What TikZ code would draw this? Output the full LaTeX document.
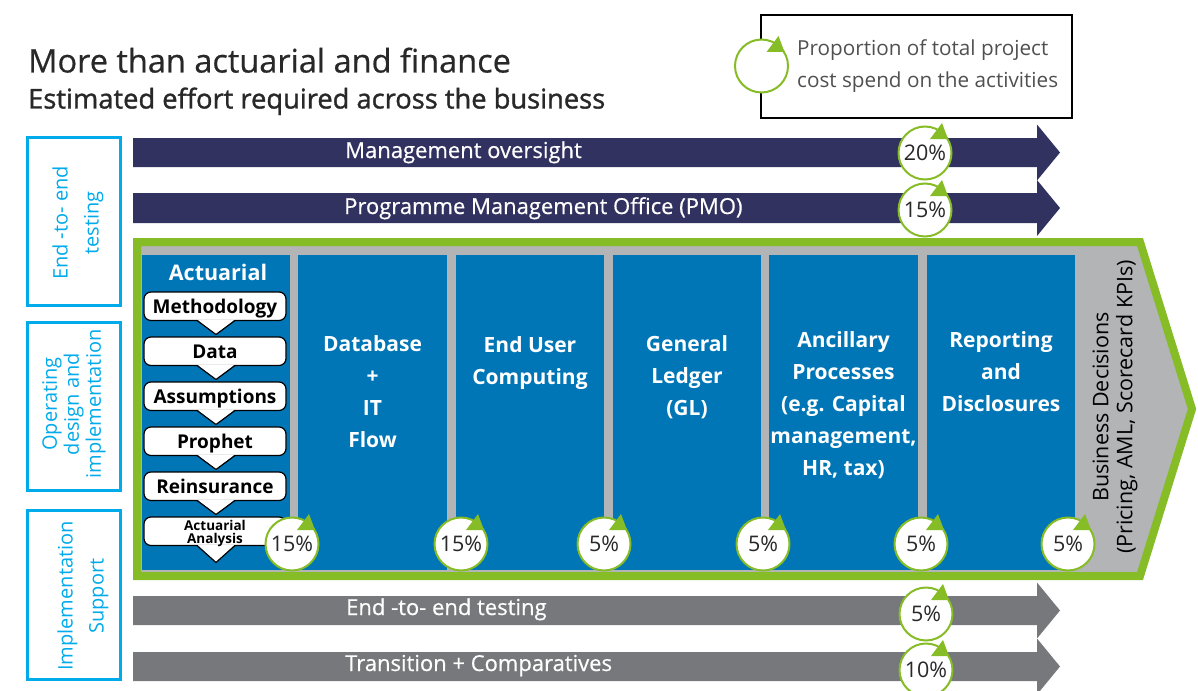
\documentclass[tikz,border=0pt]{standalone}
\usepackage{fontspec}
\setmainfont{Open Sans}
\newfontfamily\semib[FakeBold=1.2]{Open Sans}
\newfontfamily\medw[FakeBold=0.5]{Open Sans}
\definecolor{navy}{RGB}{50,50,96}
\definecolor{agray}{RGB}{119,120,123}
\definecolor{cblue}{RGB}{0,118,182}
\definecolor{fgray}{RGB}{178,180,181}
\definecolor{dgreen}{RGB}{134,188,37}
\definecolor{lcyan}{RGB}{0,171,235}
\definecolor{txt}{RGB}{40,40,40}
\definecolor{legtxt}{RGB}{80,80,80}
\tikzset{
  arrowtext/.style={anchor=base west, text=white, inner sep=0, font=\medw\fontsize{22}{25}\selectfont},
  coltext/.style={anchor=north, text=white, align=center, inner sep=0, font=\bfseries\fontsize{21}{32}\selectfont},
  sidebox/.style={draw=lcyan, line width=3, fill=white, rotate=90, inner sep=0},
  sidetext/.style={text=lcyan, rotate=90, align=center, inner sep=0},
  callout/.style={draw=black, line width=1.2, fill=white, rounded corners=7},
  calltext/.style={anchor=base, inner sep=0, font=\bfseries\fontsize{19}{22}\selectfont},
  pctc/.style={circle, draw=dgreen, line width=2, fill=white, minimum size=53, inner sep=0, text=txt, font=\fontsize{21.5}{24}\selectfont},
}
\newcommand\pctmark[4]{%
  \node[pctc] (#1) at (#2,#3) {#4};
  \fill[dgreen] ([shift={(5,-14)}]#1.center) -- ([shift={(17,-30)}]#1.center) -- ([shift={(23,-14)}]#1.center) -- cycle;}
\newcommand\hbarrow[4]{% name, top, bottom, color
  \fill[#4] (133,#2) -- (1037,#2) -- (1037,{(#2+#3)/2-28}) -- (1060,{(#2+#3)/2}) -- (1037,{(#2+#3)/2+28}) -- (1037,#3) -- (133,#3) -- cycle;}
\newcommand\callbox[2]{% top, pointer depth
  \draw[callout] (144,#1) rectangle (286,#1+28.5);
  \fill[white] (197,#1+27.5) -- (216,#1+28.5+#2) -- (235,#1+27.5) -- cycle;
  \draw[black, line width=1.2, line join=round] (197,#1+28.5) -- (216,#1+28.5+#2) -- (235,#1+28.5);}
\begin{document}
\begin{tikzpicture}[x=1pt,y=-1pt]
\useasboundingbox (0,0) rectangle (1198,690);
% titles
\node[anchor=base west, inner sep=0, text=txt, font=\medw\fontsize{32.5}{36}\selectfont] (title) at (28,72.5) {More than actuarial and finance};
\node[anchor=base west, inner sep=0, text=txt, font=\semib\fontsize{27.3}{30}\selectfont] (subtitle) at (28,108.5) {Estimated effort required across the business};
% legend
\draw[black, line width=1.3] (761,15) rectangle (1072,118);
\pctmark{leg}{761.5}{66}{}
\node[anchor=north west, align=left, inner sep=0, text=legtxt, font=\fontsize{20.7}{32}\selectfont] (legtext) at (797,39) {Proportion of total project\\cost spend on the activities};
% side boxes
\node[sidebox, minimum width=168, minimum height=93] (s1) at (74,221.5) {};
\node[sidebox, minimum width=168, minimum height=93] (s2) at (74,406.5) {};
\node[sidebox, minimum width=169, minimum height=93] (s3) at (74,595) {};
\node[sidetext, font=\fontsize{20}{31}\selectfont] (s1t) at (78,223) {End -to- end\\testing};
\node[sidetext, font=\fontsize{20}{22}\selectfont] (s2t) at (74,404) {Operating\\design and\\implementation};
\node[sidetext, font=\fontsize{20}{31}\selectfont] (s3t) at (83,596) {Implementation\\Support};
% top arrows
\hbarrow{a1}{138}{167}{navy}
\hbarrow{a2}{193}{223}{navy}
\node[arrowtext] (a1t) at (345,158) {Management oversight};
\node[arrowtext] (a2t) at (344,214) {Programme Management Office (PMO)};
% bottom arrows
\hbarrow{a3}{596}{625}{agray}
\hbarrow{a4}{652}{681}{agray}
\node[arrowtext] (a3t) at (346,615) {End -to- end testing};
\node[arrowtext] (a4t) at (345,671) {Transition + Comparatives};
% main chevron frame
\draw[fill=fgray, draw=dgreen, line width=8, line join=miter] (137,242) -- (1140,242) -- (1192,409) -- (1140,576) -- (137,576) -- cycle;
% blue columns
\fill[cblue] (142,255) rectangle (290,570);
\fill[cblue] (298,255) rectangle (447,570);
\fill[cblue] (456,255) rectangle (604,570);
\fill[cblue] (613,255) rectangle (761,570);
\fill[cblue] (769,255) rectangle (918,570);
\fill[cblue] (927,255) rectangle (1075,570);
% column texts
\node[coltext] (db) at (372.5,335) {Database\\+\\IT\\Flow};
\node[coltext] (euc) at (530,336) {End User\\Computing};
\node[coltext] (gl) at (687,335) {General\\Ledger\\(GL)};
\node[coltext] (anc) at (843.5,331) {Ancillary\\Processes\\(e.g. Capital\\management,\\HR, tax)};
\node[coltext] (rep) at (1001,331) {Reporting\\and\\Disclosures};
\node[anchor=base, text=white, inner sep=0, font=\bfseries\fontsize{21.5}{24}\selectfont] (act) at (218,280) {Actuarial};
% business decisions
\node[rotate=90, align=center, inner sep=0, text=black, font=\fontsize{21.5}{24}\selectfont] (bd) at (1115,407) {Business Decisions\\(Pricing, AML, Scorecard KPIs)};
% actuarial callouts
\callbox{292}{14}
\callbox{337}{14}
\callbox{382}{14}
\callbox{427}{14}
\callbox{472}{14}
\callbox{517}{17}
\node[calltext] (c1) at (215,313.5) {Methodology};
\node[calltext] (c2) at (215,358.5) {Data};
\node[calltext] (c3) at (215,403.5) {Assumptions};
\node[calltext] (c4) at (215,448.5) {Prophet};
\node[calltext] (c5) at (215,493.5) {Reinsurance};
\node[align=center, inner sep=0, font=\bfseries\fontsize{13.5}{13}\selectfont] (c6) at (215,533) {Actuarial\\Analysis};
% percentage markers
\pctmark{p1}{925}{153}{20\%}
\pctmark{p2}{925}{210}{15\%}
\pctmark{p3}{292}{544}{15\%}
\pctmark{p4}{461}{544}{15\%}
\pctmark{p5}{604}{544}{5\%}
\pctmark{p6}{763}{544}{5\%}
\pctmark{p7}{921}{544}{5\%}
\pctmark{p8}{1068}{544}{5\%}
\pctmark{p9}{926}{614}{5\%}
\pctmark{p10}{926}{670}{10\%}
\end{tikzpicture}
\end{document}
